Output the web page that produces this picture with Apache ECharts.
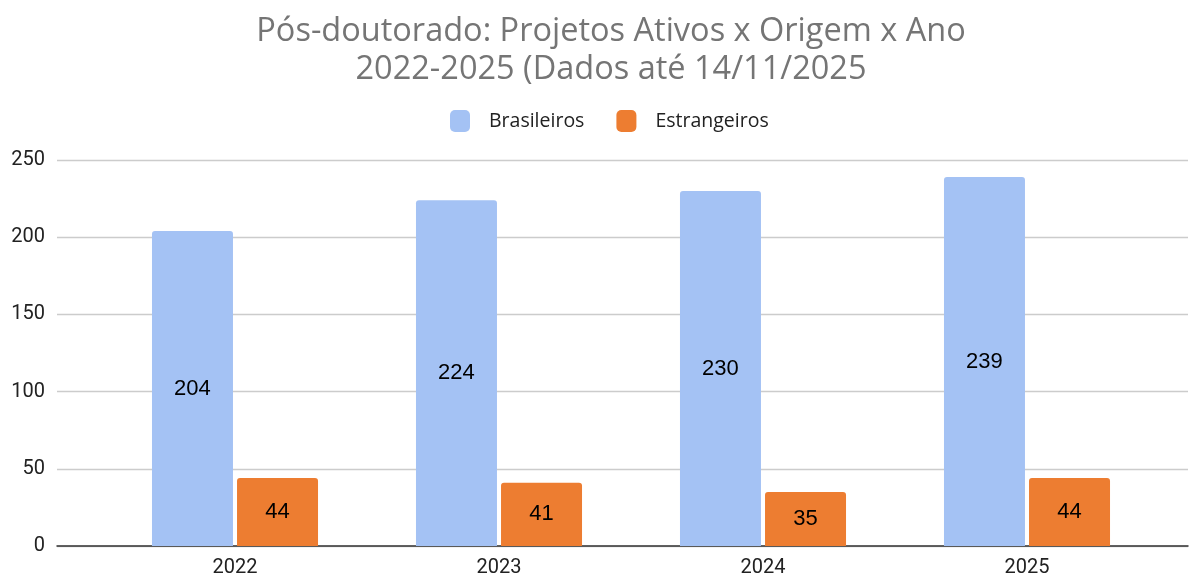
<!DOCTYPE html>
<html><head><meta charset="utf-8">
<script src="https://cdn.jsdelivr.net/npm/echarts@6/dist/echarts.min.js"></script>
<style>html,body{margin:0;padding:0;background:#fff}#c{width:1189px;height:579px}</style>
</head><body><div id="c"></div>
<script>
const categories = ['2022', '2023', '2024', '2025'];
const brasileiros = [204, 224, 230, 239];
const estrangeiros = [44, 41, 35, 44];
const yTicks = [0, 50, 100, 150, 200, 250];
const seriesNames = ['Brasileiros', 'Estrangeiros'];
const titleText = 'Pós-doutorado: Projetos Ativos x Origem x Ano\n2022-2025 (Dados até 14/11/2025';

const chart = echarts.init(document.getElementById('c'));
const labelStyle = {show: true, position: 'inside', color: '#000', fontFamily: 'Liberation Sans, Arial', fontSize: 22};
chart.setOption({
  animation: false,
  title: {text: titleText, left: 606, top: 8, textAlign: 'center',
    textStyle: {color: '#757575', fontFamily: 'Open Sans', fontSize: 32.5, fontWeight: 'normal', lineHeight: 38}},
  legend: {top: 105, left: 445, itemWidth: 20, itemHeight: 22, itemGap: 32,
    icon: 'roundRect', data: seriesNames,
    textStyle: {fontFamily: 'Open Sans', fontSize: 19.5, color: '#222', padding: [0, 0, 0, 14]}},
  grid: [
    {left: 57, right: 1, top: 160, bottom: 33},
    {left: 103, right: 30, top: 160, bottom: 33}
  ],
  xAxis: [
    {gridIndex: 0, type: 'category', data: categories, axisLine: {lineStyle: {color: '#333', width: 1.5}},
     axisTick: {show: false}, axisLabel: {show: false}, splitLine: {show: false}},
    {gridIndex: 1, type: 'category', data: categories, axisLine: {show: false}, axisTick: {show: false},
     axisLabel: {fontFamily: 'Roboto', fontSize: 20, color: '#222', margin: 12}}
  ],
  yAxis: [
    {gridIndex: 0, type: 'value', min: 0, max: 250, interval: 50,
     axisLabel: {fontFamily: 'Roboto', fontSize: 20, color: '#222', margin: 12},
     axisLine: {show: false}, axisTick: {show: false},
     splitLine: {lineStyle: {color: '#cccccc', width: 1.3}}},
    {gridIndex: 1, type: 'value', min: 0, max: 250, interval: 50, show: false, splitLine: {show: false}}
  ],
  series: [
    {name: seriesNames[0], type: 'bar', xAxisIndex: 1, yAxisIndex: 1, data: brasileiros,
     barWidth: 81, barGap: '5%', itemStyle: {color: '#a4c2f4', borderRadius: [3, 3, 0, 0]}, label: labelStyle},
    {name: seriesNames[1], type: 'bar', xAxisIndex: 1, yAxisIndex: 1, data: estrangeiros,
     barWidth: 81, barGap: '5%', itemStyle: {color: '#ed7d31', borderRadius: [3, 3, 0, 0]}, label: labelStyle}
  ]
});
</script></body></html>
